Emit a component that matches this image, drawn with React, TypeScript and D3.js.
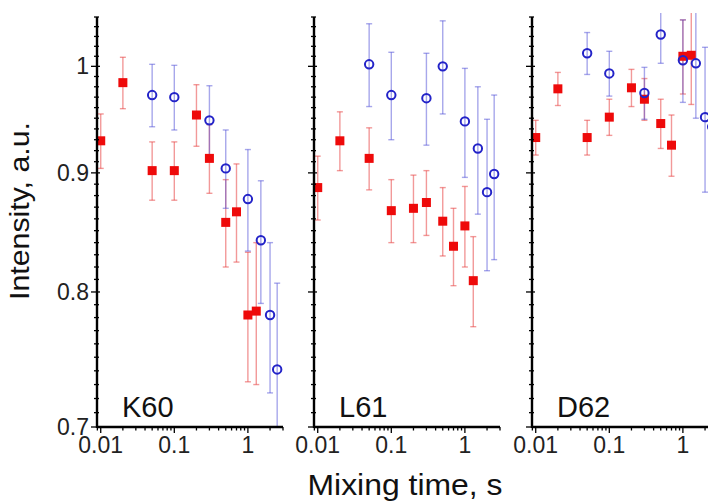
import React from "react";
import * as d3 from "d3";

// mixing times (s)
const redTimes = [0.01, 0.02, 0.05, 0.1, 0.2, 0.3, 0.5, 0.7, 1.0, 1.3];
const blueTimes = [0.05, 0.1, 0.3, 0.5, 1.0, 1.5, 2.0, 2.5];

// K60
const k60Red = [0.929, 0.984, 0.902, 0.902, 0.953, 0.913, 0.857, 0.866, 0.782, 0.785];
const k60RedErr = [0.025, 0.025, 0.026, 0.026, 0.029, 0.031, 0.037, 0.042, 0.05, 0.055];
const k60Blue = [0.972, 0.97, 0.948, 0.904, 0.877, 0.842, 0.782, 0.741];
const k60BlueErr = [0.03, 0.031, 0.033, 0.035, 0.044, 0.051, 0.058, 0.066];

// L61
const l61Red = [0.887, 0.929, 0.913, 0.867, 0.869, 0.874, 0.858, 0.837, 0.854, 0.809];
const l61RedErr = [0.028, 0.027, 0.028, 0.027, 0.029, 0.028, 0.029, 0.032, 0.034, 0.036];
const l61Blue = [1.002, 0.972, 0.969, 1.0, 0.947, 0.922, 0.883, 0.899];
const l61BlueErr = [0.041, 0.042, 0.044, 0.046, 0.051, 0.058, 0.066, 0.073];

// D62
const d62Red = [0.932, 0.978, 0.932, 0.951, 0.979, 0.968, 0.945, 0.925, 1.01, 1.011];
const d62RedErr = [0.016, 0.016, 0.016, 0.017, 0.018, 0.02, 0.023, 0.028, 0.037, 0.048];
const d62Blue = [1.013, 0.993, 0.974, 1.032, 1.006, 1.003, 0.951, 0.942];
const d62BlueErr = [0.021, 0.022, 0.025, 0.029, 0.041, 0.053, 0.068, 0.072];

const panelNames = ["K60", "L61", "D62"];
const xTickLabels = ["0.01", "0.1", "1"];
const yTickLabels = ["0.7", "0.8", "0.9", "1"];

const panels = [
  { name: panelNames[0], red: k60Red, redErr: k60RedErr, blue: k60Blue, blueErr: k60BlueErr },
  { name: panelNames[1], red: l61Red, redErr: l61RedErr, blue: l61Blue, blueErr: l61BlueErr },
  { name: panelNames[2], red: d62Red, redErr: d62RedErr, blue: d62Blue, blueErr: d62BlueErr },
];

const W = 708;
const H = 503;
const panelLeft = [97, 314, 532];
const panelW = 186;
const top = 17;
const bottom = 427;
const font = "Liberation Sans, Arial, sans-serif";

const y = d3.scaleLog().domain([0.7, 1.05]).range([bottom, top]);

const yMinor = d3.range(70, 106).map((v) => v / 100);
const xMinor: number[] = [];
[0.001, 0.01, 0.1, 1].forEach((d) => {
  for (let k = 1; k <= 9; k++) xMinor.push(d * k);
});

const Panel = ({ p, i }: { p: typeof panels[0]; i: number }) => {
  const x0 = panelLeft[i];
  const x = d3.scaleLog().domain([0.0089, 3.0]).range([x0, x0 + panelW]);
  const clipId = `clip${i}`;
  const cap = 3;
  return (
    <g>
      <defs>
        <clipPath id={clipId}>
          <rect x={x0 + 1} y={13} width={W - x0} height={bottom - 13} />
        </clipPath>
      </defs>
      <g clipPath={`url(#${clipId})`}>
        {redTimes.map((t, j) => {
          const cx = x(t);
          const y1 = y(p.red[j] + p.redErr[j]);
          const y2 = y(p.red[j] - p.redErr[j]);
          return (
            <g key={"re" + j} stroke="rgba(232,70,70,0.55)" strokeWidth={1.4}>
              <line x1={cx} x2={cx} y1={y1} y2={y2} />
              <line x1={cx - cap} x2={cx + cap} y1={y1} y2={y1} />
              <line x1={cx - cap} x2={cx + cap} y1={y2} y2={y2} />
            </g>
          );
        })}
        {blueTimes.map((t, j) => {
          const cx = x(t);
          const y1 = y(p.blue[j] + p.blueErr[j]);
          const y2 = y(p.blue[j] - p.blueErr[j]);
          return (
            <g key={"be" + j} stroke="rgba(80,80,215,0.5)" strokeWidth={1.4}>
              <line x1={cx} x2={cx} y1={y1} y2={y2} />
              <line x1={cx - cap} x2={cx + cap} y1={y1} y2={y1} />
              <line x1={cx - cap} x2={cx + cap} y1={y2} y2={y2} />
            </g>
          );
        })}
        {redTimes.map((t, j) => (
          <rect key={"r" + j} x={x(t) - 4.5} y={y(p.red[j]) - 4.5} width={9} height={9} fill="#ee0a0a" />
        ))}
        {blueTimes.map((t, j) => (
          <circle key={"b" + j} cx={x(t)} cy={y(p.blue[j])} r={4.2} fill="none" stroke="#2323c8" strokeWidth={2} />
        ))}
      </g>
      {/* y axis */}
      <line x1={x0} x2={x0} y1={top} y2={bottom + 1} stroke="#000" strokeWidth={2.4} />
      {yMinor.map((v) => {
        const major = Math.abs(v * 10 - Math.round(v * 10)) < 1e-6;
        return (
          <line key={"ym" + v} x1={x0 - (major ? 6 : 3)} x2={x0 + (major ? 3 : 2)} y1={y(v)} y2={y(v)} stroke="#000" strokeWidth={1.3} />
        );
      })}
      {/* x axis */}
      <line x1={x0} x2={x0 + panelW} y1={bottom} y2={bottom} stroke="#000" strokeWidth={2.4} />
      {xMinor
        .filter((v) => v >= 0.0089 && v <= 3.0)
        .map((v) => {
          const major = Math.abs(Math.log10(v) - Math.round(Math.log10(v))) < 1e-6;
          return (
            <line key={"xm" + v} x1={x(v)} x2={x(v)} y1={bottom} y2={bottom + (major ? 6 : 3.5)} stroke="#000" strokeWidth={1.3} />
          );
        })}
      {xTickLabels.map((l) => (
        <text key={l} x={x(+l)} y={453} textAnchor="middle" fontSize={23} fontFamily={font} fill="#222">
          {l}
        </text>
      ))}
      <text x={x0 + 25} y={417} fontSize={29} fontFamily={font} fill="#111">
        {p.name}
      </text>
    </g>
  );
};

export default function App() {
  return (
    <svg width={W} height={H} style={{ position: "fixed", left: 0, top: 0, background: "#fff" }}>
      <rect width={W} height={H} fill="#fff" />
      {panels.map((p, i) => (
        <Panel key={p.name} p={p} i={i} />
      ))}
      {yTickLabels.map((l) => (
        <text key={l} x={89} y={y(+l) + 8} textAnchor="end" fontSize={23} fontFamily={font} fill="#222">
          {l}
        </text>
      ))}
      <text
        transform={`translate(29,211) rotate(-90)`}
        textAnchor="middle"
        fontSize={27}
        fontFamily={font}
        fill="#111"
        textLength={178}
        lengthAdjust="spacingAndGlyphs"
      >
        Intensity, a.u.
      </text>
      <text x={405} y={495} textAnchor="middle" fontSize={30} fontFamily={font} fill="#111" textLength={195} lengthAdjust="spacingAndGlyphs">
        Mixing time, s
      </text>
    </svg>
  );
}
